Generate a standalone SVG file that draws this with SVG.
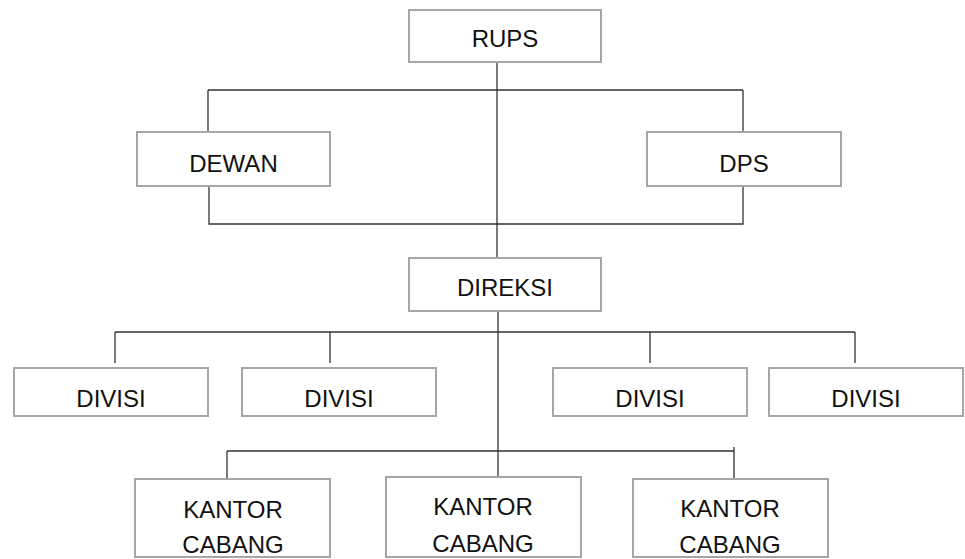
<svg xmlns="http://www.w3.org/2000/svg" width="965" height="559" viewBox="0 0 965 559">
<style>
.box{fill:#fff;stroke:#a6a6a6;stroke-width:2}
.lbl{font-family:"Liberation Sans",Arial,sans-serif;font-size:24px;fill:#111;text-anchor:middle}
.ln{stroke:#333;stroke-width:1.3;fill:none}
</style>
<rect width="965" height="559" fill="#fff"/>
<g id="connectors">
<path class="ln" d="M497 62V257"/>
<path class="ln" d="M208 90H743M208 90V132M743 90V132"/>
<path class="ln" d="M209 186V224H743V186"/>
<path class="ln" d="M498 312V477"/>
<path class="ln" d="M115 332H855M115 332V363M330 332V363M650 332V363M855 332V363"/>
<path class="ln" d="M227 451H734M227 451V481M734 447V479"/>
</g>
<g id="rups"><rect class="box" x="409" y="10" width="192" height="52"/><text class="lbl" x="505" y="47">RUPS</text></g>
<g id="dewan"><rect class="box" x="137" y="132" width="193" height="54"/><text class="lbl" x="233.5" y="172">DEWAN</text></g>
<g id="dps"><rect class="box" x="647" y="132" width="194" height="54"/><text class="lbl" x="744" y="172">DPS</text></g>
<g id="direksi"><rect class="box" x="409" y="258" width="192" height="53"/><text class="lbl" x="505" y="296">DIREKSI</text></g>
<g id="divisi1"><rect class="box" x="14" y="368" width="194" height="48"/><text class="lbl" x="111" y="407">DIVISI</text></g>
<g id="divisi2"><rect class="box" x="242" y="368" width="194" height="48"/><text class="lbl" x="339" y="407">DIVISI</text></g>
<g id="divisi3"><rect class="box" x="553" y="368" width="194" height="48"/><text class="lbl" x="650" y="407">DIVISI</text></g>
<g id="divisi4"><rect class="box" x="769" y="368" width="194" height="48"/><text class="lbl" x="866" y="407">DIVISI</text></g>
<g id="kantor1"><rect class="box" x="135" y="479" width="195" height="78"/><text class="lbl" x="233" y="518">KANTOR</text><text class="lbl" x="233" y="553">CABANG</text></g>
<g id="kantor2"><rect class="box" x="386" y="477" width="195" height="80"/><text class="lbl" x="483" y="515">KANTOR</text><text class="lbl" x="483" y="552">CABANG</text></g>
<g id="kantor3"><rect class="box" x="633" y="479" width="195" height="78"/><text class="lbl" x="730" y="517">KANTOR</text><text class="lbl" x="730" y="553">CABANG</text></g>
</svg>
